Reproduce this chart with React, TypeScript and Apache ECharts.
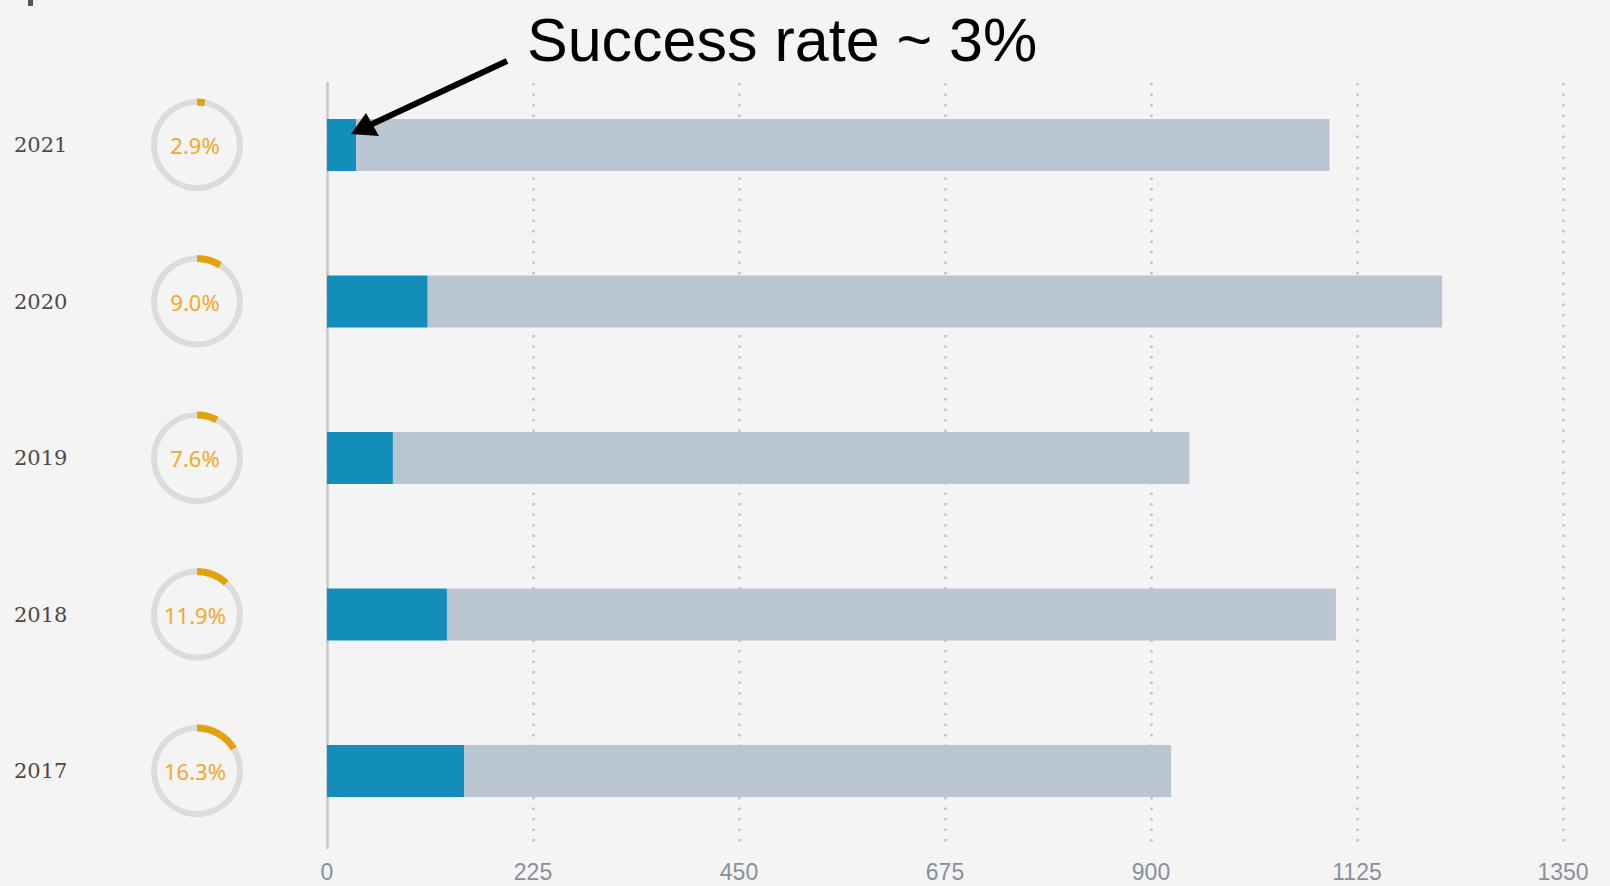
import React, { useEffect, useRef } from "react";
import * as echarts from "echarts";

const years = ["2017", "2018", "2019", "2020", "2021"];
const successes = [150, 131, 72, 110, 32];
const totals = [922, 1102, 942, 1218, 1095];
const rateLabels = ["16.3%", "11.9%", "7.6%", "9.0%", "2.9%"];
const rates = [0.163, 0.119, 0.076, 0.09, 0.029];
const xTicks = [0, 225, 450, 675, 900, 1125, 1350];
const annotation = "Success rate ~ 3%";

const W = 1610;
const H = 886;
const GRID_LEFT = 327;
const GRID_RIGHT = 47;
const BAR_TOP = 66.75;
const BAR_BOTTOM = 36.75;

export default function App() {
  const ref = useRef<HTMLDivElement>(null);
  useEffect(() => {
    if (!ref.current) return;
    const chart = echarts.init(ref.current, null, { renderer: "svg" });
    const remainder = totals.map((t, i) => t - successes[i]);
    const bandH = (H - BAR_TOP - BAR_BOTTOM) / years.length;
    const ringX = 197;

    const pies: any[] = [];
    years.forEach((y, j) => {
      const cy = H - BAR_BOTTOM - (j + 0.5) * bandH;
      pies.push({
        type: "pie",
        silent: true,
        center: [ringX, cy],
        radius: [40, 46],
        startAngle: 90,
        label: { show: false },
        labelLine: { show: false },
        emphasis: { disabled: true },
        z: 2,
        data: [{ value: 1, name: y + "-bg", itemStyle: { color: "#dcdcdc" } }],
      });
      pies.push({
        type: "pie",
        silent: true,
        center: [ringX, cy],
        radius: [39.5, 46.5],
        startAngle: 90,
        clockwise: true,
        labelLine: { show: false },
        emphasis: { disabled: true },
        z: 3,
        data: [
          {
            value: rates[j],
            name: y,
            itemStyle: { color: "#e2a20e" },
            label: {
              show: true,
              position: "center",
              formatter: rateLabels[j],
              color: "#f6a72a",
              fontSize: 22,
              fontFamily: "Noto Sans",
              padding: [0, 4, 0, 0],
            },
          },
          {
            value: 1 - rates[j],
            name: y + "-rest",
            itemStyle: { color: "rgba(0,0,0,0)" },
            label: { show: false },
          },
        ],
      });
    });

    chart.setOption({
      animation: false,
      backgroundColor: "#f4f4f4",
      grid: [
        { left: GRID_LEFT, right: GRID_RIGHT, top: 83, bottom: 38 },
        { left: GRID_LEFT, right: GRID_RIGHT, top: BAR_TOP, bottom: BAR_BOTTOM },
      ],
      xAxis: [
        {
          type: "value",
          gridIndex: 0,
          min: xTicks[0],
          max: xTicks[xTicks.length - 1],
          interval: xTicks[1] - xTicks[0],
          axisLine: { show: false },
          axisTick: { show: false },
          axisLabel: {
            color: "#8a9099",
            fontSize: 23,
            lineHeight: 18,
            fontFamily: "Liberation Sans",
            margin: 15,
            formatter: (v: number) => String(v),
          },
          splitLine: {
            show: true,
            lineStyle: { color: "#c2c2c2", width: 2.5, type: [2.5, 8] },
          },
        },
        {
          type: "value",
          gridIndex: 1,
          min: xTicks[0],
          max: xTicks[xTicks.length - 1],
          show: false,
        },
      ],
      yAxis: [
        {
          type: "value",
          gridIndex: 0,
          axisLine: { show: true, lineStyle: { color: "#c8c8c8", width: 2.5 } },
          axisTick: { show: false },
          axisLabel: { show: false },
          splitLine: { show: false },
        },
        {
          type: "category",
          gridIndex: 1,
          data: years,
          axisLine: { show: false },
          axisTick: { show: false },
          splitLine: { show: false },
          axisLabel: {
            align: "left",
            margin: GRID_LEFT - 14,
            color: "#4a4a4a",
            fontSize: 21,
            fontFamily: "DejaVu Serif",
          },
        },
      ],
      series: [
        {
          type: "bar",
          name: "Success",
          xAxisIndex: 1,
          yAxisIndex: 1,
          stack: "total",
          barWidth: 52,
          itemStyle: { color: "#138dba" },
          data: successes,
          z: 3,
        },
        {
          type: "bar",
          name: "Other",
          xAxisIndex: 1,
          yAxisIndex: 1,
          stack: "total",
          barWidth: 52,
          itemStyle: { color: "#b9c6d1" },
          data: remainder,
          z: 3,
        },
        ...pies,
      ],
      graphic: [
        {
          type: "rect",
          shape: { x: 28, y: 0, width: 5, height: 6 },
          style: { fill: "#4f5560" },
        },
        {
          type: "text",
          x: 527,
          y: 40,
          z: 10,
          style: {
            text: annotation,
            fill: "#000000",
            fontSize: 61,
            fontFamily: "Liberation Sans",
            verticalAlign: "middle",
            align: "left",
          },
        },
        {
          type: "line",
          z: 10,
          shape: { x1: 507, y1: 61, x2: 370, y2: 125 },
          style: { stroke: "#000000", lineWidth: 6 },
        },
        {
          type: "polygon",
          z: 10,
          shape: { points: [[351, 134], [366, 113], [379, 136]] },
          style: { fill: "#000000" },
        },
      ],
    });
    return () => chart.dispose();
  }, []);
  return <div ref={ref} style={{ width: W, height: H, position: "absolute", left: 0, top: 0 }} />;
}
